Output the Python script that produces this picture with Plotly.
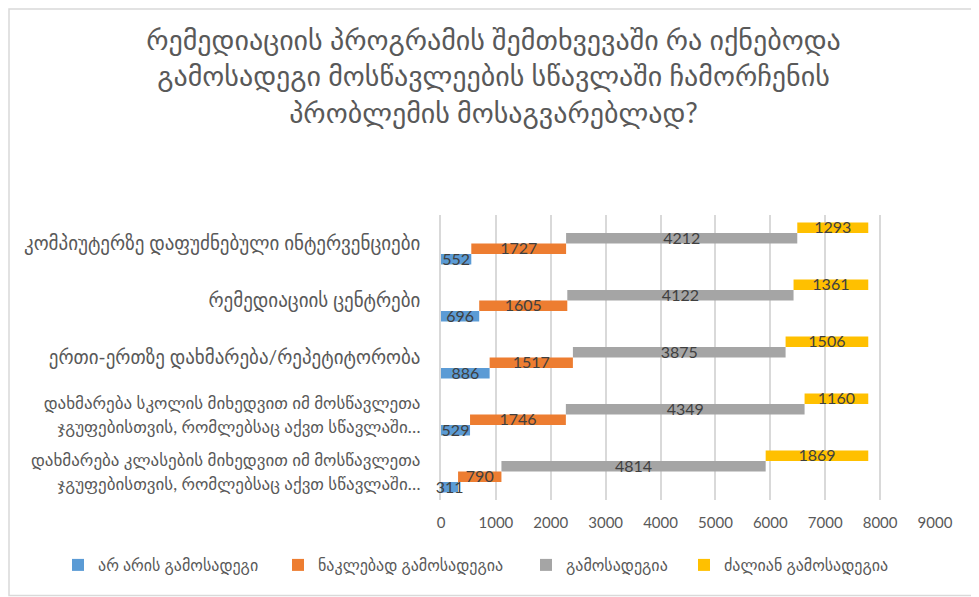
import plotly.graph_objects as go

# DATA
# ----------------------------------------------------------------------------------------------------
# categories listed bottom -> top, as drawn on the chart
categories = [
    'დახმარება კლასების მიხედვით იმ მოსწავლეთა<br>ჯგუფებისთვის, რომლებსაც აქვთ სწავლაში…',
    'დახმარება სკოლის მიხედვით იმ მოსწავლეთა<br>ჯგუფებისთვის, რომლებსაც აქვთ სწავლაში…',
    'ერთი-ერთზე დახმარება/რეპეტიტორობა',
    'რემედიაციის ცენტრები',
    'კომპიუტერზე დაფუძნებული ინტერვენციები',
]
series_names = ['არ არის გამოსადეგი', 'ნაკლებად გამოსადეგია', 'გამოსადეგია', 'ძალიან გამოსადეგია']
not_useful = [311, 529, 886, 696, 552]
less_useful = [790, 1746, 1517, 1605, 1727]
useful = [4814, 4349, 3875, 4122, 4212]
very_useful = [1869, 1160, 1506, 1361, 1293]
x_ticks = [0, 1000, 2000, 3000, 4000, 5000, 6000, 7000, 8000, 9000]

title = ('რემედიაციის პროგრამის შემთხვევაში რა იქნებოდა<br>'
         'გამოსადეგი მოსწავლეების სწავლაში ჩამორჩენის<br>'
         'პრობლემის მოსაგვარებლად?')

# STYLE
# ----------------------------------------------------------------------------------------------------
colors = ['#5B9BD5', '#ED7D31', '#A5A5A5', '#FFC000']
FONT = 'Lato, DejaVu Sans, sans-serif'
GREY = '#595959'
bar_w = 0.184
offsets = [-2 * bar_w, -bar_w, 0, bar_w]
# page body adds 8px around the figure, so the figure is sized to fill the rest
W, H = 971, 589
L, R, T, B = 433, 44, 207, 97
pw, ph = W - L - R, H - T - B
legend_left = [50, 270, 518, 676]   # px from figure left, one legend per series
legend_ids = ['legend', 'legend2', 'legend3', 'legend4']

# FIGURE
# ----------------------------------------------------------------------------------------------------
fig = go.Figure()
positions = list(range(len(categories)))
base = [0] * len(categories)
for i, (name, values) in enumerate(zip(series_names, [not_useful, less_useful, useful, very_useful])):
    fig.add_trace(go.Bar(
        name=name,
        legend=legend_ids[i],
        y=positions,
        x=values,
        base=list(base),
        orientation='h',
        width=bar_w,
        offset=offsets[i],
        marker=dict(color=colors[i], line=dict(width=0)),
        hoverinfo='x+name',
    ))
    # data labels centred on each segment
    fig.add_trace(go.Scatter(
        x=[b + v / 2 for b, v in zip(base, values)],
        y=[p + offsets[i] + bar_w / 2 - 0.03 for p in positions],
        mode='text',
        text=[str(v) for v in values],
        textposition='middle center',
        textfont=dict(family=FONT, size=16, color='#404040'),
        cliponaxis=False,
        showlegend=False,
        hoverinfo='skip',
    ))
    base = [b + v for b, v in zip(base, values)]

# the long two-line labels are set a little smaller so they fit the left margin
tick_text = [f'<span style="font-size:17px">{c}</span>' if '<br>' in c else c for c in categories]

legends = {}
for i, lid in enumerate(legend_ids):
    legends[lid] = dict(orientation='h', xref='container', x=legend_left[i] / W, xanchor='left',
                        yref='container', y=1 - 557 / H, yanchor='middle',
                        font=dict(size=16, color=GREY), bgcolor='rgba(0,0,0,0)')

fig.update_layout(
    width=W, height=H,
    margin=dict(l=L, r=R, t=T, b=B, autoexpand=False),
    barmode='overlay',
    paper_bgcolor='white',
    plot_bgcolor='white',
    font=dict(family=FONT, color=GREY),
    title=dict(text=title, x=0.5, xanchor='center', y=1 - 42 / H, yanchor='middle',
               font=dict(family=FONT, size=28, color=GREY)),
    xaxis=dict(range=[0, 9000], tickvals=x_ticks, showgrid=True, gridcolor='#D9D9D9', gridwidth=1.5,
               zeroline=False, showline=False, ticks='', ticklabelstandoff=12,
               tickfont=dict(size=15, color=GREY), automargin=False),
    yaxis=dict(range=[-0.5, 4.5], tickvals=positions, ticktext=tick_text, showgrid=False,
               zeroline=False, showline=True, linecolor='#D9D9D9', linewidth=1.5, ticks='',
               layer='below traces', ticklabelstandoff=15, tickfont=dict(size=19, color=GREY),
               automargin=False),
    showlegend=True,
    # light chart frame
    shapes=[dict(type='rect', xref='paper', yref='paper', layer='below',
                 x0=(1 - L) / pw, x1=(W - 1.5 - L) / pw,
                 y0=(H - B - (H - 1.5)) / ph, y1=(H - B - 1) / ph,
                 line=dict(color='#D9D9D9', width=1.5), fillcolor='rgba(0,0,0,0)')],
    **legends,
)

fig.write_html('out.html')
